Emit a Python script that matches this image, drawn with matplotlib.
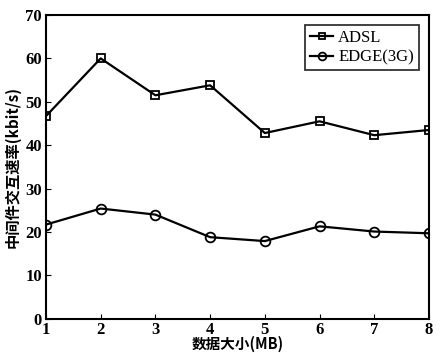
import numpy as np
import matplotlib.pyplot as plt

# data
sizes = [1, 2, 3, 4, 5, 6, 7, 8]
adsl = [46.7, 60.0, 51.5, 53.8, 42.8, 45.5, 42.3, 43.5]
edge = [21.7, 25.4, 24.0, 18.8, 17.9, 21.3, 20.1, 19.7]

plt.rcParams['font.family'] = ['Liberation Serif', 'Noto Sans CJK SC']

fig = plt.figure(figsize=(4.4, 3.53), dpi=100)
ax = fig.add_axes([0.1045, 0.097, 0.8705, 0.8605])

ax.plot(sizes, adsl, marker='s', color='black', lw=1.6, ms=6,
        mfc='none', mew=1.3, label='ADSL')
ax.plot(sizes, edge, marker='o', color='black', lw=1.6, ms=7,
        mfc='none', mew=1.3, label='EDGE(3G)')

ax.set_xlim(1, 8)
ax.set_ylim(0, 70)
ax.set_xticks(sizes)
ax.set_yticks(range(0, 71, 10))
ax.tick_params(axis='x', direction='in', labelsize=12, pad=2)
ax.tick_params(axis='y', direction='in', labelsize=12, pad=3)
for lbl in ax.get_xticklabels() + ax.get_yticklabels():
    lbl.set_fontweight('bold')
for s in ax.spines.values():
    s.set_linewidth(1.5)

ax.set_xlabel('数据大小(MB)', fontsize=10.5, fontweight='bold',
              family=['Noto Sans CJK SC'], labelpad=-1)
ax.set_ylabel('中间件交互速率(kbit/s)', fontsize=11, fontweight='bold',
              family=['Noto Sans CJK SC'], labelpad=3)

leg = ax.legend(loc='upper right', fontsize=12, frameon=True, fancybox=False,
                handlelength=1.4, handletextpad=0.3, borderpad=0.3,
                labelspacing=0.2, borderaxespad=0.6, markerscale=0.8)
leg.get_frame().set_edgecolor('black')
leg.get_frame().set_linewidth(1.3)

fig.savefig('out.png')
